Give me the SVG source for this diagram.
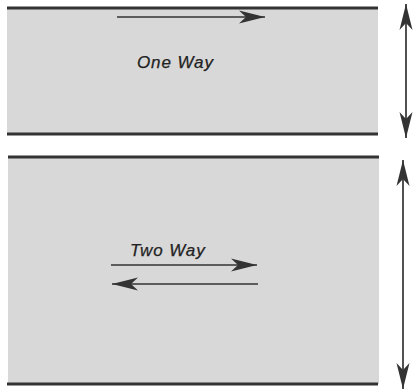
<svg xmlns="http://www.w3.org/2000/svg" width="413" height="390" viewBox="0 0 413 390">
  <style>
    .lane { fill: #d8d8d8; }
    .edge { stroke: #333; stroke-width: 3; fill: none; }
    .arr { stroke: #333; stroke-width: 1.7; fill: none; }
    .lbl { font-family: "Liberation Sans", Arial, sans-serif; font-style: italic; font-size: 17px; fill: #222; letter-spacing: 0.9px; stroke: #222; stroke-width: 0.25px; }
  </style>
  <defs>
    <marker id="head" markerUnits="userSpaceOnUse" viewBox="-27 -8 28 16" refX="0" refY="0" markerWidth="28" markerHeight="16" orient="auto-start-reverse">
      <path d="M0,0 L-26,-6.5 L-19,0 L-26,6.5 Z" fill="#333"/>
    </marker>
  </defs>
  <g id="one-way">
    <rect class="lane" x="7" y="8" width="371" height="126"/>
    <line class="edge" x1="7" y1="8" x2="378" y2="8"/>
    <line class="edge" x1="7" y1="134" x2="378" y2="134"/>
    <text class="lbl" x="137" y="68">One Way</text>
  </g>
  <g id="two-way">
    <rect class="lane" x="8" y="157" width="371" height="227"/>
    <line class="edge" x1="8" y1="157" x2="379" y2="157"/>
    <line class="edge" x1="7" y1="384" x2="378" y2="384"/>
    <text class="lbl" x="130" y="256">Two Way</text>
  </g>
  <g id="connectors">
    <line class="arr" x1="117" y1="17" x2="265" y2="17" marker-end="url(#head)"/>
    <line class="arr" x1="111" y1="265" x2="257" y2="265" marker-end="url(#head)"/>
    <line class="arr" x1="258" y1="284" x2="112" y2="284" marker-end="url(#head)"/>
    <line class="arr" x1="406" y1="4" x2="406" y2="138" marker-start="url(#head)" marker-end="url(#head)"/>
    <line class="arr" x1="403" y1="160" x2="403" y2="389" marker-start="url(#head)" marker-end="url(#head)"/>
  </g>
</svg>
